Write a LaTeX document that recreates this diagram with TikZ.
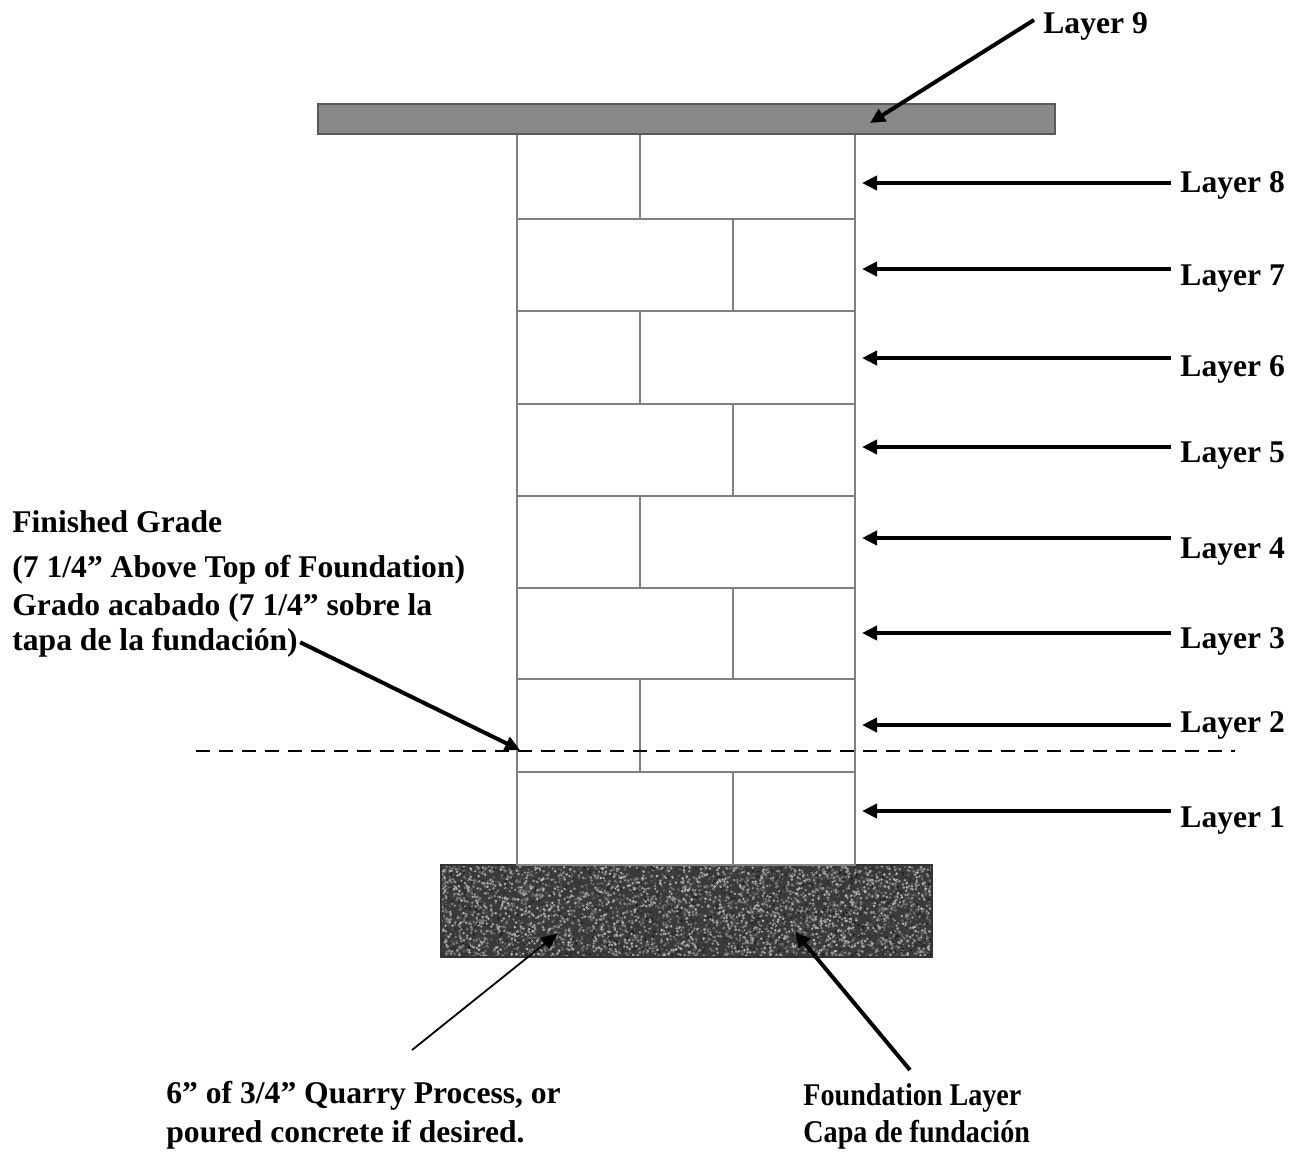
\documentclass[tikz,border=0pt]{standalone}
\usepackage{fontspec}
\setmainfont{Liberation Serif}
\usetikzlibrary{arrows.meta}
\definecolor{capgray}{HTML}{898989}
\definecolor{brickline}{HTML}{808080}
\definecolor{footgray}{HTML}{3A3A3A}

\begin{document}
\begin{tikzpicture}[x=0.5pt,y=-0.5pt]
            \tikzset{
                txt/.style={inner sep=0pt, anchor=base west, font=\bfseries\fontsize{15.8}{19}\selectfont},
                lbl/.style={txt, inner xsep=4.5pt},
                brick/.style={draw=brickline, line width=0.7pt},
                pointer/.style={-{Triangle[length=7.5pt,width=7pt]}, line width=2pt},
                thinpointer/.style={-{Triangle[length=8.5pt,width=7pt]}, line width=0.9pt}
            }
            \useasboundingbox (0,0) rectangle (1293,1152);

            % foundation
            \fill[footgray] (441,865) rectangle (932,957);
            \begin{scope}
                \clip (441,865) rectangle (932,957);
                \pgfmathsetseed{42}
                \foreach \i in {1,...,5500} {
                    \pgfmathsetmacro\px{441+491*rnd}
                    \pgfmathsetmacro\py{865+92*rnd}
                    \pgfmathsetmacro\sh{int(12+62*rnd)}
                    \fill[white!\sh!black] (\px,\py) circle (0.7pt);
                }
            \end{scope}
            \draw[black!80, line width=0.7pt] (441,865) rectangle (932,957);

            % wall
            \foreach \t/\b/\j in {134/219/640, 219/311/733, 311/404/640, 404/496/733,
                                  496/588/640, 588/679/733, 679/772/640, 772/865/733} {
                \draw[brick] (517,\t) rectangle (855,\b);
                \draw[brick] (\j,\t) -- (\j,\b);
            }

            % cap
            \draw[fill=capgray, draw=black!65, line width=0.7pt] (318,104) rectangle (1055,134);

            % finished grade
            \coordinate (gradeL) at (196,751);
            \coordinate (gradeR) at (1235,751);
            \draw[line width=1pt, dash pattern=on 7pt off 4.5pt] (gradeL) -- (gradeR);

            % layer labels
            \node[lbl] (layer9) at (1034,33) {Layer 9};
            \coordinate (tip9) at (870,123);
            \draw[pointer] ([yshift=3pt]layer9.west) -- (tip9);
            \foreach \n/\ay/\by in {8/183/192, 7/269/285, 6/358/376, 5/447/462,
                                    4/538/558, 3/633/648, 2/725/732, 1/811/827} {
                \node[lbl] (layer\n) at (1171,\by) {Layer \n};
                \coordinate (tip\n) at (862,\ay);
                \draw[pointer] (layer\n.west |- tip\n) -- (tip\n);
            }

            % grade text
            \node[txt] (g1) at (12,532) {Finished Grade};
            \node[txt] (g2) at (12,577) {(7 1/4” Above Top of Foundation)};
            \node[txt] (g3) at (12,615) {Grado acabado (7 1/4” sobre la};
            \node[txt] (g4) at (12,650) {tapa de la fundación)};
            \coordinate (gradept) at (520,750);
            \draw[pointer] ([xshift=1pt]g4.east) -- (gradept);

            % bottom labels
            \node[txt] (q1) at (166,1103) {6” of 3/4” Quarry Process, or};
            \node[txt] (q2) at (166,1142) {poured concrete if desired.};
            \coordinate (qtail) at (412,1050);
            \coordinate (qtip) at (558,933);
            \draw[thinpointer] (qtail) -- (qtip);

            \node[txt] (f1) at (803,1105) {\scalebox{0.89}[1]{Foundation Layer}};
            \node[txt] (f2) at (803,1142) {\scalebox{0.89}[1]{Capa de fundación}};
            \coordinate (ftail) at (910,1070);
            \coordinate (ftip) at (795,932);
            \draw[pointer] (ftail) -- (ftip);
\end{tikzpicture}
\end{document}
